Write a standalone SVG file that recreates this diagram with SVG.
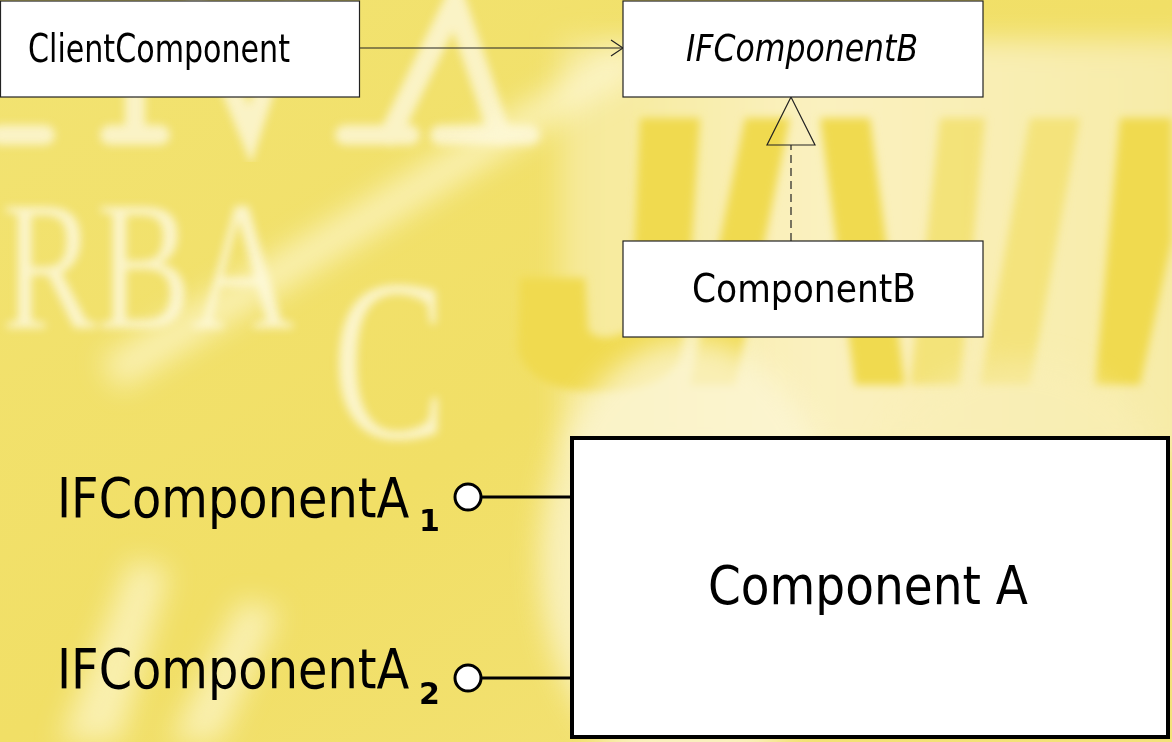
<svg xmlns="http://www.w3.org/2000/svg" width="1172" height="742" viewBox="0 0 1172 742">
  <defs>
    <filter id="soft" x="-20%" y="-20%" width="140%" height="140%">
      <feGaussianBlur stdDeviation="4"/>
    </filter>
    <filter id="softer" x="-30%" y="-30%" width="160%" height="160%">
      <feGaussianBlur stdDeviation="14"/>
    </filter>
    <linearGradient id="bgGrad" x1="0" y1="0" x2="1" y2="1">
      <stop offset="0" stop-color="#f2e372"/>
      <stop offset="0.5" stop-color="#f1df66"/>
      <stop offset="1" stop-color="#f3e27a"/>
    </linearGradient>
    <linearGradient id="panelGrad" x1="0" y1="0" x2="1" y2="0">
      <stop offset="0" stop-color="#f6e996"/>
      <stop offset="0.4" stop-color="#faf1c0"/>
      <stop offset="1" stop-color="#f7eba6"/>
    </linearGradient>
    <marker id="openArrow" viewBox="0 0 14 18" refX="13" refY="9" markerWidth="14" markerHeight="18" markerUnits="userSpaceOnUse" orient="auto">
      <path d="M1,1 L13,9 L1,17" fill="none" stroke="#222" stroke-width="1.2"/>
    </marker>
  </defs>
  <style>
    .box { fill: #ffffff; stroke: #222222; stroke-width: 1.2; }
    .boxBold { fill: #ffffff; stroke: #000000; stroke-width: 4; }
    .label { font-family: "DejaVu Sans", "Liberation Sans", sans-serif; fill: #000000; }
    .thin { stroke: #222222; stroke-width: 1.2; fill: none; }
    .thick { stroke: #000000; stroke-width: 3; fill: none; }
    .port { fill: #ffffff; stroke: #000000; stroke-width: 3; }
    .deco { font-family: "Liberation Serif", serif; fill: #fdf8dc; }
    .bar { fill: #f0da50; }
    .pale { stroke: #fcf6d6; fill: none; stroke-linecap: round; }
  </style>

  <!-- backdrop artwork -->
  <g id="backdrop">
    <rect x="0" y="0" width="1172" height="742" fill="url(#bgGrad)"/>
    <!-- light panel on the right -->
    <rect x="560" y="40" width="640" height="420" fill="url(#panelGrad)" filter="url(#softer)"/>
    <!-- dark yellow slanted bars -->
    <g filter="url(#soft)">
      <polygon class="bar" points="640,118 700,118 688,300 632,300"/>
      <path class="bar" d="M632,290 L690,290 L680,360 Q660,392 600,392 Q530,392 518,350 L520,278 L585,278 L588,330 Q600,345 630,330 Z"/>
      <polygon class="bar" points="745,118 790,118 735,385 690,385"/>
      <polygon class="bar" points="820,118 870,118 905,385 855,385"/>
      <polygon class="bar" points="940,118 985,118 960,385 910,385" opacity="0.6"/>
      <polygon class="bar" points="1030,118 1080,118 1030,385 980,385" opacity="0.55"/>
      <polygon class="bar" points="1120,118 1172,118 1172,240 1140,385 1095,385"/>
    </g>
    <!-- pale glow under the main component -->
    <ellipse cx="690" cy="560" rx="150" ry="220" fill="#fcf6d6" opacity="0.75" filter="url(#softer)"/>
    <ellipse cx="1020" cy="520" rx="150" ry="160" fill="#f9efb8" opacity="0.5" filter="url(#softer)"/>
    <!-- pale serif lettering, left -->
    <g filter="url(#soft)" opacity="0.85">
      <text class="deco" transform="translate(2,328) scale(1,1.3)" font-size="142">RBA</text>
      <text class="deco" transform="translate(332,438) scale(0.75,1)" font-size="230">C</text>
    </g>
    <!-- pale strokes along the top -->
    <g filter="url(#soft)" opacity="0.85">
      <path class="pale" d="M390,135 L455,2 L500,135" stroke-width="22"/>
      <path class="pale" d="M345,135 L410,135 M440,135 L530,135" stroke-width="20"/>
      <path class="pale" d="M195,0 L250,135 L290,10" stroke-width="20"/>
      <path class="pale" d="M110,135 L160,135 M135,20 L135,135" stroke-width="20"/>
      <path class="pale" d="M0,135 L45,135" stroke-width="20"/>
    </g>
    <!-- soft light streaks -->
    <g filter="url(#softer)" opacity="0.6" fill="#fffbe0">
      <path d="M100,360 L620,45 L640,72 L120,390 Z"/>
      <path d="M60,742 L130,560 L170,570 L120,742 Z"/>
      <path d="M170,742 L240,600 L280,610 L220,742 Z"/>
    </g>
  </g>

  <!-- connectors -->
  <g id="connectors">
    <line class="thin" x1="359" y1="48" x2="623" y2="48" marker-end="url(#openArrow)"/>
    <line class="thin" x1="791" y1="241" x2="791" y2="145" stroke-dasharray="8,5"/>
    <polygon points="791,97 767,145 815,145" fill="none" stroke="#222" stroke-width="1.2"/>
    <line class="thick" x1="481" y1="497" x2="572" y2="497"/>
    <line class="thick" x1="481" y1="678" x2="572" y2="678"/>
  </g>

  <g id="clientComponent">
    <rect class="box" x="0.5" y="1" width="359" height="96"/>
    <text class="label" x="28" y="62" font-size="39" textLength="262" lengthAdjust="spacingAndGlyphs">ClientComponent</text>
  </g>

  <g id="ifComponentB">
    <rect class="box" x="623" y="1" width="360" height="96"/>
    <text class="label" x="686" y="61" font-size="38" font-style="italic" textLength="232" lengthAdjust="spacingAndGlyphs">IFComponentB</text>
  </g>

  <g id="componentB">
    <rect class="box" x="623" y="241" width="360" height="96"/>
    <text class="label" x="692" y="302" font-size="39" textLength="224" lengthAdjust="spacingAndGlyphs">ComponentB</text>
  </g>

  <g id="componentA">
    <rect class="boxBold" x="572" y="438" width="596" height="299"/>
    <text class="label" x="708" y="604" font-size="54" textLength="320" lengthAdjust="spacingAndGlyphs">Component A</text>
  </g>

  <g id="ifComponentA1">
    <circle class="port" cx="468" cy="497" r="13"/>
    <text class="label" transform="translate(57,517) scale(0.855,1)" font-size="56">IFComponentA</text>
    <text class="label" x="419" y="531" font-size="30" font-weight="bold">1</text>
  </g>

  <g id="ifComponentA2">
    <circle class="port" cx="468" cy="678" r="13"/>
    <text class="label" transform="translate(57,688) scale(0.855,1)" font-size="56">IFComponentA</text>
    <text class="label" x="419" y="704" font-size="30" font-weight="bold">2</text>
  </g>
</svg>
